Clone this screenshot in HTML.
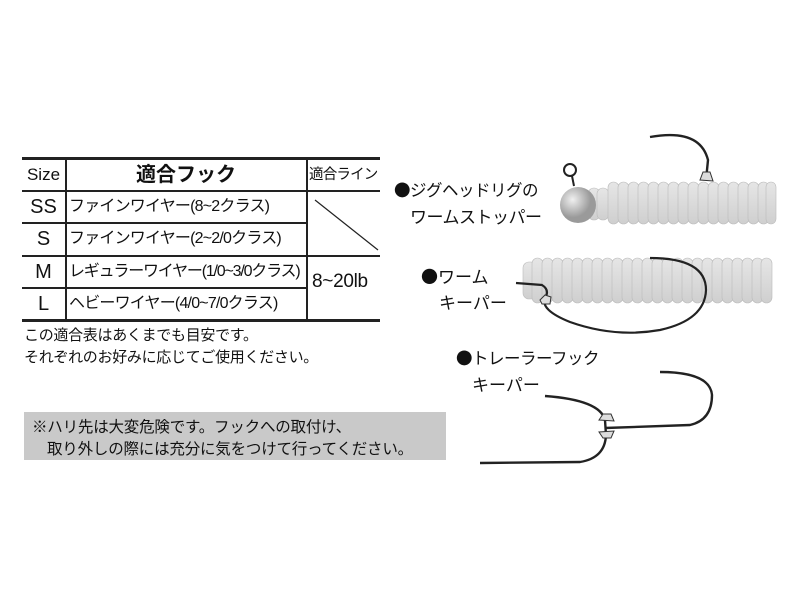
<!DOCTYPE html>
<html><head><meta charset="utf-8"><style>
body{margin:0;width:800px;height:600px;background:#fff;position:relative;overflow:hidden;font-family:"Liberation Sans","Noto Sans CJK JP",sans-serif;color:#111}
.a{position:absolute;white-space:nowrap}
.h{position:absolute;height:1.5px;background:#222}
.v{position:absolute;width:1.5px;background:#222}
.sz{position:absolute;left:22px;width:43px;text-align:center;font-size:20px;line-height:32px}
.hk{position:absolute;left:69px;font-size:16px;line-height:32px;letter-spacing:-0.8px}
.d{font-family:"Noto Sans CJK JP",sans-serif}
</style></head><body>
<div class="h" style="left:22px;top:157px;width:358px;height:3px"></div>
<div class="h" style="left:22px;top:190px;width:358px"></div>
<div class="h" style="left:22px;top:222px;width:284px"></div>
<div class="h" style="left:22px;top:255px;width:358px"></div>
<div class="h" style="left:22px;top:287px;width:284px"></div>
<div class="h" style="left:22px;top:319px;width:358px;height:3px"></div>
<div class="v" style="left:65px;top:159px;height:161px"></div>
<div class="v" style="left:306px;top:159px;height:161px"></div>
<div class="sz" style="top:159px;font-size:17px">Size</div>
<div class="sz" style="top:191px">SS</div>
<div class="sz" style="top:223px">S</div>
<div class="sz" style="top:256px">M</div>
<div class="sz" style="top:288px">L</div>
<div class="a" style="left:66px;width:240px;text-align:center;top:159px;line-height:32px;font-size:20px;font-weight:bold">適合フック</div>
<div class="a" style="left:309px;top:159px;line-height:32px;font-size:14.5px;letter-spacing:-0.8px">適合ライン</div>
<div class="hk" style="top:191px">ファインワイヤー(8~2クラス)</div>
<div class="hk" style="top:223px">ファインワイヤー(2~2/0クラス)</div>
<div class="hk" style="top:256px;letter-spacing:-1.2px">レギュラーワイヤー(1/0~3/0クラス)</div>
<div class="hk" style="top:288px">ヘビーワイヤー(4/0~7/0クラス)</div>
<div class="a" style="left:312px;top:262px;font-size:19px;line-height:40px;letter-spacing:-0.3px">8~20lb</div>
<svg class="a" style="left:0;top:0" width="800" height="600">
<line x1="315" y1="200" x2="378" y2="250" stroke="#222" stroke-width="1.2"/>
</svg>
<div class="a" style="left:24px;top:324px;font-size:15px;letter-spacing:-0.3px">この適合表はあくまでも目安です。</div>
<div class="a" style="left:24px;top:346px;font-size:15px;letter-spacing:-0.3px">それぞれのお好みに応じてご使用ください。</div>
<div class="a" style="left:24px;top:412px;width:422px;height:48px;background:#c9c9c9"></div>
<div class="a" style="left:32px;top:415px;font-size:15.5px;letter-spacing:-0.2px">※ハリ先は大変危険です。フックへの取付け、</div>
<div class="a" style="left:47px;top:437px;font-size:15.5px;letter-spacing:-0.2px">取り外しの際には充分に気をつけて行ってください。</div>
<div class="a" style="left:394px;top:177px;font-size:16.5px;letter-spacing:-0.5px"><span class="d">●</span>ジグヘッドリグの</div>
<div class="a" style="left:410px;top:203px;font-size:17px;letter-spacing:-0.5px">ワームストッパー</div>
<div class="a" style="left:421px;top:263px;font-size:17px"><span class="d">●</span>ワーム</div>
<div class="a" style="left:439px;top:289px;font-size:17px">キーパー</div>
<div class="a" style="left:456px;top:345px;font-size:16.5px;letter-spacing:-0.5px"><span class="d">●</span>トレーラーフック</div>
<div class="a" style="left:472px;top:371px;font-size:17px">キーパー</div>
<svg class="a" style="left:0;top:0" width="800" height="600">
<defs><linearGradient id="s" x1="0" x2="0" y1="0" y2="1"><stop offset="0" stop-color="#e6e6e6"/><stop offset="1" stop-color="#cfcfcf"/></linearGradient>
<radialGradient id="h" cx="0.35" cy="0.35"><stop offset="0" stop-color="#f0f0f0"/><stop offset="1" stop-color="#9a9a9a"/></radialGradient></defs>
<g fill="url(#s)" stroke="#bbb" stroke-width="0.6">
<rect x="588" y="188" width="12" height="32" rx="6"/><rect x="597" y="188" width="12" height="32" rx="6"/>
<rect x="608" y="182" width="11" height="42" rx="5.5"/><rect x="618" y="182" width="11" height="42" rx="5.5"/><rect x="628" y="182" width="11" height="42" rx="5.5"/><rect x="638" y="182" width="11" height="42" rx="5.5"/><rect x="648" y="182" width="11" height="42" rx="5.5"/><rect x="658" y="182" width="11" height="42" rx="5.5"/><rect x="668" y="182" width="11" height="42" rx="5.5"/><rect x="678" y="182" width="11" height="42" rx="5.5"/><rect x="688" y="182" width="11" height="42" rx="5.5"/><rect x="698" y="182" width="11" height="42" rx="5.5"/><rect x="708" y="182" width="11" height="42" rx="5.5"/><rect x="718" y="182" width="11" height="42" rx="5.5"/><rect x="728" y="182" width="11" height="42" rx="5.5"/><rect x="738" y="182" width="11" height="42" rx="5.5"/><rect x="748" y="182" width="11" height="42" rx="5.5"/><rect x="758" y="182" width="11" height="42" rx="5.5"/><rect x="766" y="182" width="10" height="42" rx="5"/>
</g>
<circle cx="570" cy="170" r="6" fill="none" stroke="#222" stroke-width="2"/>
<line x1="572" y1="176" x2="574" y2="186" stroke="#222" stroke-width="2"/>
<circle cx="578" cy="205" r="18" fill="url(#h)"/>
<path d="M650 137 Q700 128 708 160 L706 180" fill="none" stroke="#222" stroke-width="2.4"/>
<path d="M700 180 L703 172 L710 172 L713 181 Z" fill="#ddd" stroke="#333"/>
<g fill="url(#s)" stroke="#bbb" stroke-width="0.6">
<rect x="523" y="262" width="14" height="37" rx="6"/>
<rect x="532" y="258" width="11" height="45" rx="5.5"/><rect x="542" y="258" width="11" height="45" rx="5.5"/><rect x="552" y="258" width="11" height="45" rx="5.5"/><rect x="562" y="258" width="11" height="45" rx="5.5"/><rect x="572" y="258" width="11" height="45" rx="5.5"/><rect x="582" y="258" width="11" height="45" rx="5.5"/><rect x="592" y="258" width="11" height="45" rx="5.5"/><rect x="602" y="258" width="11" height="45" rx="5.5"/><rect x="612" y="258" width="11" height="45" rx="5.5"/><rect x="622" y="258" width="11" height="45" rx="5.5"/><rect x="632" y="258" width="11" height="45" rx="5.5"/><rect x="642" y="258" width="11" height="45" rx="5.5"/><rect x="652" y="258" width="11" height="45" rx="5.5"/><rect x="662" y="258" width="11" height="45" rx="5.5"/><rect x="672" y="258" width="11" height="45" rx="5.5"/><rect x="682" y="258" width="11" height="45" rx="5.5"/><rect x="692" y="258" width="11" height="45" rx="5.5"/><rect x="702" y="258" width="11" height="45" rx="5.5"/><rect x="712" y="258" width="11" height="45" rx="5.5"/><rect x="722" y="258" width="11" height="45" rx="5.5"/><rect x="732" y="258" width="11" height="45" rx="5.5"/><rect x="742" y="258" width="11" height="45" rx="5.5"/><rect x="752" y="258" width="11" height="45" rx="5.5"/><rect x="761" y="258" width="11" height="45" rx="5.5"/>
</g>
<path d="M516 283 L542 285 Q550 290 545 298 Q540 310 570 322 Q615 338 660 330 Q705 320 706 290 Q706 258 650 258" fill="none" stroke="#222" stroke-width="2.2"/>
<path d="M540 300 L545 295 L551 297 L550 304 L542 304 Z" fill="#ddd" stroke="#333"/>
<path d="M480 463 L580 462 Q605 458 606 435 L605 420 Q600 400 545 396" fill="none" stroke="#222" stroke-width="2.4"/>
<path d="M605 428 L690 425 Q712 420 712 395 Q710 372 660 372" fill="none" stroke="#222" stroke-width="2.4"/>
<path d="M599 420 L603 414 L611 414 L614 421 Z M599 432 L603 438 L611 438 L614 431 Z" fill="#ddd" stroke="#333"/>
</svg>
</body></html>
